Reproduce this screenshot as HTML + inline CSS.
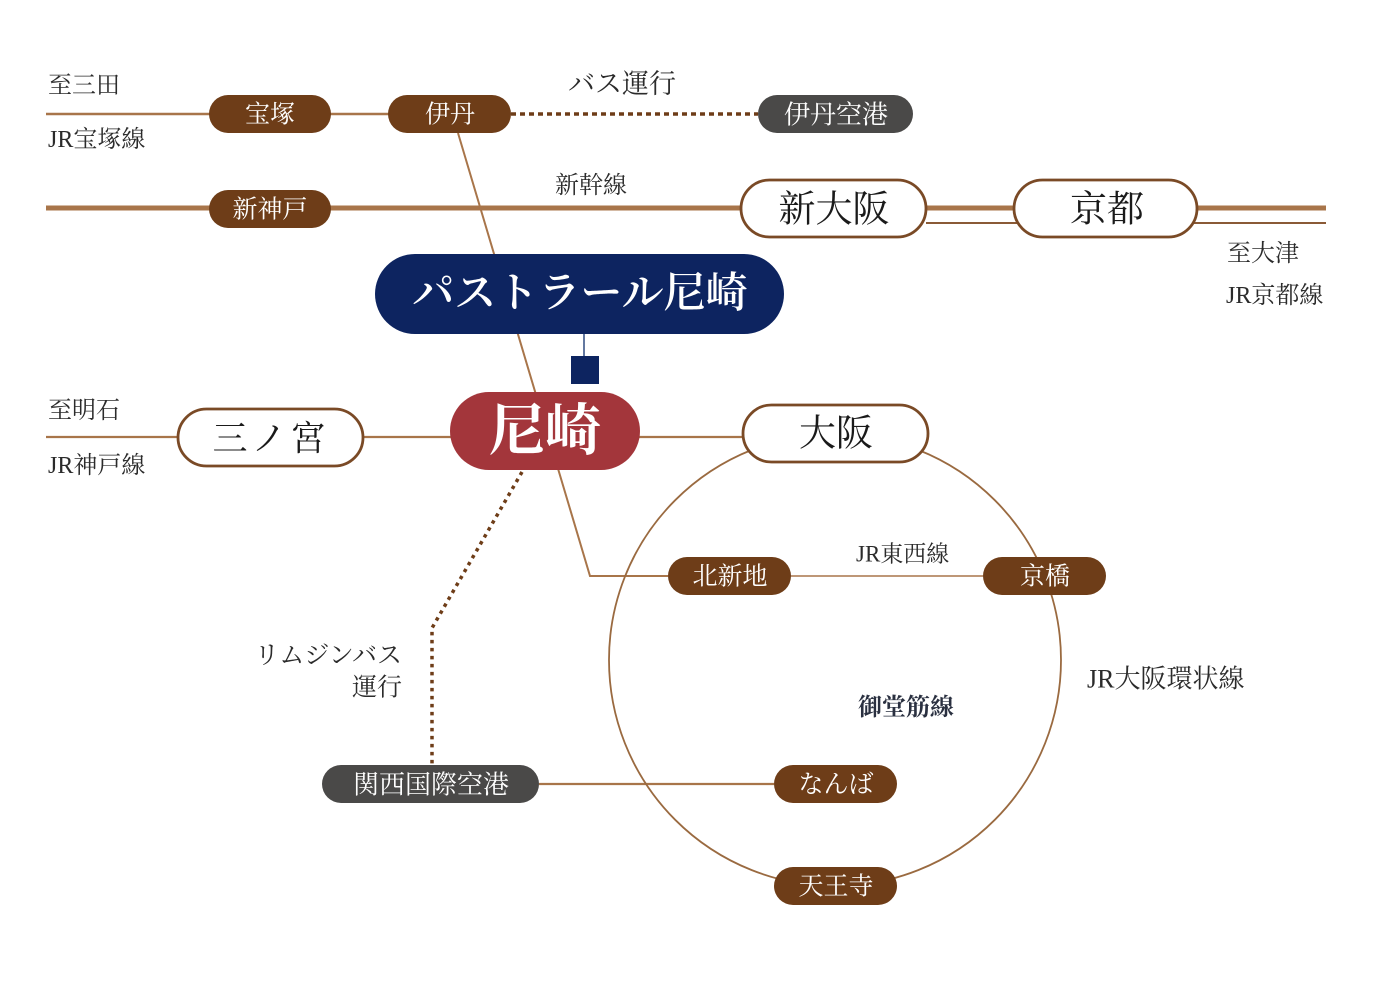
<!DOCTYPE html>
<html><head><meta charset="utf-8"><style>
html,body{margin:0;padding:0;background:#fff;}
svg{display:block;}
text{font-family:"Liberation Serif","Noto Serif CJK SC",serif;}
.w{fill:#fff;}
.lb{fill:#2b2b2b;font-size:24px;}
</style></head><body>
<svg width="1380" height="990" viewBox="0 0 1380 990" xmlns="http://www.w3.org/2000/svg">
<rect width="1380" height="990" fill="#fff"/>
<!-- lines -->
<g stroke="#a8754a" fill="none">
  <line x1="46" y1="114" x2="390" y2="114" stroke-width="2.6"/>
  <line x1="46" y1="208" x2="1326" y2="208" stroke-width="5"/>
  <line x1="926" y1="223" x2="1326" y2="223" stroke-width="2" stroke="#8a5a36"/>
  <line x1="46" y1="437" x2="742" y2="437" stroke-width="2.3"/>
  <polyline points="458,133 590,576 668,576" stroke-width="2"/>
  <line x1="791" y1="576" x2="983" y2="576" stroke-width="1.6"/>
  <line x1="539" y1="784" x2="774" y2="784" stroke-width="2.3"/>
  <circle cx="835" cy="660" r="226" stroke-width="1.8" stroke="#9a6a40"/>
</g>
<g stroke="#6e3d18" fill="none" stroke-width="3.5">
  <line x1="511" y1="114" x2="758" y2="114" stroke-dasharray="5 4"/>
  <polyline points="522,472 432,628 432,765" stroke-width="3.5" stroke-dasharray="3.5 4.5"/>
</g>
<!-- navy connector -->
<line x1="584" y1="334" x2="584" y2="358" stroke="#2f4a80" stroke-width="1.5"/>
<rect x="571" y="356" width="28" height="28" fill="#0d2460"/>

<!-- brown stations -->
<g fill="#6e3d18">
  <rect x="209" y="95" width="122" height="38" rx="19"/>
  <rect x="388" y="95" width="123" height="38" rx="19"/>
  <rect x="209" y="190" width="122" height="38" rx="19"/>
  <rect x="668" y="557" width="123" height="38" rx="19"/>
  <rect x="983" y="557" width="123" height="38" rx="19"/>
  <rect x="774" y="765" width="123" height="38" rx="19"/>
  <rect x="774" y="867" width="123" height="38" rx="19"/>
</g>
<g fill="#4a4948">
  <rect x="758" y="95" width="155" height="38" rx="19"/>
  <rect x="322" y="765" width="217" height="38" rx="19"/>
</g>
<!-- white stations -->
<g fill="#fff" stroke="#7a4a26" stroke-width="2.8">
  <rect x="741" y="180" width="185" height="57" rx="28.5"/>
  <rect x="1014" y="180" width="183" height="57" rx="28.5"/>
  <rect x="178" y="409" width="185" height="57" rx="28.5"/>
  <rect x="743" y="405" width="185" height="57" rx="28.5"/>
</g>
<rect x="375" y="254" width="409" height="80" rx="40" fill="#0d2460"/>
<rect x="450" y="392" width="190" height="78" rx="39" fill="#a3363b"/>

<!-- station labels -->
<g class="w" font-size="25" text-anchor="middle" dominant-baseline="central">
  <text x="270" y="115">宝塚</text>
  <text x="450" y="115">伊丹</text>
  <text x="836" y="115" font-size="26">伊丹空港</text>
  <text x="270" y="210">新神戸</text>
  <text x="730" y="577">北新地</text>
  <text x="1045" y="577">京橋</text>
  <text x="431" y="785" font-size="26">関西国際空港</text>
  <text x="836" y="785">なんば</text>
  <text x="836" y="887">天王寺</text>
  <text x="580" y="294" font-size="42" font-weight="600">パストラール尼崎</text>
  <text x="545" y="432" font-size="56" font-weight="bold">尼崎</text>
</g>
<g fill="#1a1a1a" font-size="37" text-anchor="middle" dominant-baseline="central">
  <text x="834" y="210">新大阪</text>
  <text x="1107" y="210">京都</text>
  <text x="271" y="439" font-size="35" letter-spacing="4">三ノ宮</text>
  <text x="836" y="434">大阪</text>
</g>

<!-- line labels -->
<g class="lb" dominant-baseline="central">
  <text x="48" y="86">至三田</text>
  <text x="48" y="140">JR宝塚線</text>
  <text x="568" y="84" font-size="27">バス運行</text>
  <text x="555" y="186">新幹線</text>
  <text x="1227" y="254">至大津</text>
  <text x="1226" y="296">JR京都線</text>
  <text x="48" y="411">至明石</text>
  <text x="48" y="466">JR神戸線</text>
  <text x="856" y="554" font-size="23">JR東西線</text>
  <text x="402" y="656" font-size="25" text-anchor="end">リムジンバス</text>
  <text x="402" y="688" font-size="25" text-anchor="end">運行</text>
  <text x="1087" y="679" font-size="26">JR大阪環状線</text>
  <text x="858" y="708" font-size="24" font-weight="bold" fill="#2a3040">御堂筋線</text>
</g>
</svg>
</body></html>
